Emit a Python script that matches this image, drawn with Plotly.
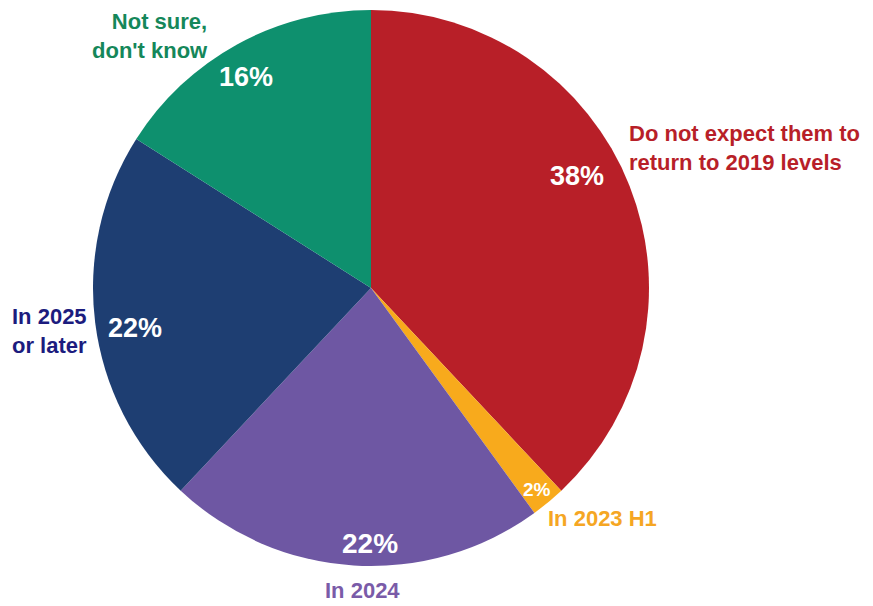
import math
import plotly.graph_objects as go

# Survey answers, clockwise from 12 o'clock
categories = [
    "Do not expect them to<br>return to 2019 levels",
    "In 2023 H1",
    "In 2024",
    "In 2025<br>or later",
    "Not sure,<br>don't know",
]
shares = [38, 2, 22, 22, 16]

slice_colors = ["#B81F28", "#F8AA1C", "#6E57A3", "#1E3E72", "#0E906E"]
label_colors = ["#B81F28", "#F5A623", "#7A5BA8", "#1C1C7E", "#15875A"]

W, H = 873, 606
CX, CY, R = 371, 288, 278

fig = go.Figure(
    go.Pie(
        values=shares,
        labels=[c.replace("<br>", " ") for c in categories],
        sort=False,
        direction="clockwise",
        rotation=0,
        marker=dict(colors=slice_colors, line=dict(width=0)),
        textinfo="none",
        hoverinfo="label+percent",
        showlegend=False,
        domain=dict(
            x=[(CX - R) / W, (CX + R) / W],
            y=[1 - (CY + R) / H, 1 - (CY - R) / H],
        ),
    )
)

# Percentage labels placed along each slice: (angle nudge in degrees, radius fraction, font size)
pct_place = [(-7.0, 0.845, 27), (0.2, 0.94, 19), (-3.4, 0.92, 28), (-2.4, 0.86, 27), (-1.8, 0.88, 27)]

total = sum(shares)
cum = 0
annotations = []
for v, (dang, rf, fs) in zip(shares, pct_place):
    mid = (cum + v / 2) / total * 360 + dang
    cum += v
    a = math.radians(mid)
    px = CX + R * rf * math.sin(a)
    py = CY - R * rf * math.cos(a)
    annotations.append(dict(
        x=px / W, y=1 - py / H, xref="paper", yref="paper",
        text=f"<b>{v}%</b>", showarrow=False, xanchor="center", yanchor="middle",
        font=dict(family="Liberation Sans, Arial, sans-serif", size=fs, color="white"),
    ))

# Category labels outside the pie: (x px, y px, xanchor, align)
cat_place = [
    (627, 148, "left", "left"),
    (546, 518, "left", "left"),
    (362, 590, "center", "center"),
    (10, 331, "left", "left"),
    (210, 36, "right", "right"),
]
for text, col, (x, y, xa, al) in zip(categories, label_colors, cat_place):
    annotations.append(dict(
        x=x / W, y=1 - y / H, xref="paper", yref="paper",
        text=f"<b>{text}</b>", showarrow=False, xanchor=xa, yanchor="middle", align=al,
        font=dict(family="Liberation Sans, Arial, sans-serif", size=22, color=col),
    ))

fig.update_layout(
    width=W, height=H,
    margin=dict(l=0, r=0, t=0, b=0),
    paper_bgcolor="white",
    plot_bgcolor="white",
    annotations=annotations,
)

fig.write_html("out.html")
